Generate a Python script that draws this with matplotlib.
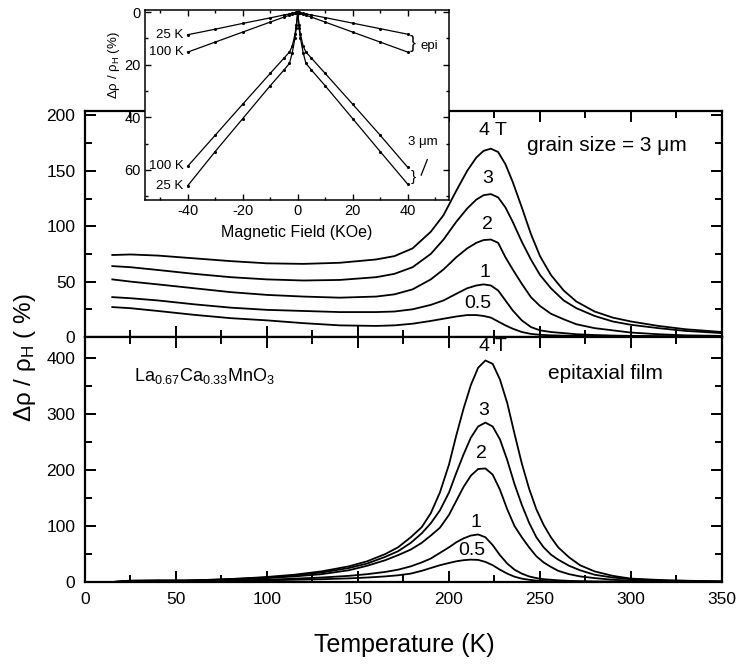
import matplotlib
matplotlib.use('Agg')
import matplotlib.pyplot as plt
from matplotlib.ticker import MultipleLocator

plt.rcParams['font.family'] = ['Liberation Sans', 'DejaVu Sans']
plt.rcParams['mathtext.fontset'] = 'custom'
plt.rcParams['mathtext.rm'] = 'Liberation Sans'
plt.rcParams['mathtext.it'] = 'Liberation Sans:italic'
plt.rcParams['axes.unicode_minus'] = False

fields = ['4 T', '3', '2', '1', '0.5']

# grain size = 3 um sample, delta rho / rho_H (%)
t_grain = [15, 25, 40, 60, 80, 100, 120, 140, 160, 170, 180, 190, 197, 204, 210, 215,
           219, 223, 227, 231, 235, 240, 245, 250, 256, 263, 270, 280, 290, 300, 315, 330, 350]
grain_4T = [74, 74.5, 73.5, 71, 68.5, 66.5, 66, 67, 70, 73, 80, 95, 110, 132, 150, 162,
            168, 170, 167, 156, 140, 117, 93, 73, 56, 42, 32, 23, 17.5, 14, 10, 7, 4.5]
grain_3T = [64, 63, 60.5, 57, 54, 52, 51, 51.5, 54, 57, 63, 75, 88, 104, 116, 124,
            128, 129, 126, 117, 104, 86, 70, 56, 44, 33, 26, 19, 14, 11, 8, 5.5, 3.5]
grain_2T = [52, 50, 47.5, 44, 40.5, 38, 36.5, 35.5, 36.5, 38.5, 43, 52, 61, 72, 80, 85,
            87.5, 88, 85, 72, 61, 48, 36, 28, 21, 16, 11.5, 8, 6, 4, 2.5, 1.5, 1]
grain_1T = [36, 35, 33, 29.5, 26.5, 24.5, 23.5, 22.5, 22.5, 23, 25, 29, 33, 39, 44, 46.5,
            47.5, 46.5, 42, 33, 24, 15, 9, 6, 4.5, 3.5, 2.5, 1.8, 1.3, 1, 0.8, 0.6, 0.5]
grain_05T = [27, 26, 23.5, 20, 17, 15, 12.5, 10.5, 10, 10.5, 12, 14.5, 16.5, 18.5, 19.8, 19.8,
             19, 17.5, 14, 10.5, 7.5, 4.5, 2.8, 2, 1.5, 1.2, 1, 0.8, 0.6, 0.5, 0.4, 0.3, 0.2]

# epitaxial film
t_epi = [15, 25, 40, 55, 70, 85, 100, 115, 130, 145, 155, 165, 172, 179, 185, 190, 195, 200,
         204, 208, 212, 216, 220, 224, 228, 232, 236, 240, 244, 248, 252, 256, 260, 266,
         272, 280, 290, 300, 320, 350]
epi_4T = [0, 2.5, 3, 2.5, 4, 6, 9, 13, 19, 28, 37, 50, 62, 80, 98, 123, 160, 210,
          262, 310, 352, 383, 396, 390, 362, 320, 265, 212, 167, 130, 102, 80, 62, 44,
          30, 19, 11, 6, 3, 1]
epi_3T = [0, 2, 2.5, 3, 4, 6, 8, 12, 17, 25, 33, 45, 55, 70, 87, 105, 128, 160,
          195, 228, 258, 278, 285, 278, 255, 218, 175, 138, 106, 80, 62, 49, 40, 29,
          21, 13, 8, 5, 2.5, 1]
epi_2T = [0, 1.5, 2, 2, 3, 5, 7, 10, 14, 21, 29, 39, 48, 58, 70, 83, 97, 120,
          145, 170, 190, 202, 203, 192, 165, 130, 100, 80, 62, 46, 35, 27, 20, 14,
          10, 7, 4, 2.5, 1.2, 0.5]
epi_1T = [0, 1, 1.5, 2, 2, 3, 4, 6, 8, 11, 14, 18, 22, 28, 35, 42, 52, 62,
          71, 78, 83, 85, 80, 66, 48, 33, 22, 15, 10, 7, 5, 4, 3, 2,
          1.5, 1, 0.8, 0.5, 0.3, 0.2]
epi_05T = [0, 1, 1, 1, 2, 2, 3, 4, 5, 6.5, 8, 10, 12, 15, 20, 25, 30, 34,
           37, 39, 40, 39.5, 36, 30, 22, 15, 9.5, 6, 4, 2.5, 1.8, 1.3, 1, 0.7,
           0.5, 0.4, 0.3, 0.2, 0.1, 0.1]

# inset: MR vs field (KOe)
h_in = [-40, -30, -20, -10, -5, -3, -2, -1, -0.5, 0, 0.5, 1, 2, 3, 5, 10, 20, 30, 40]
epi_25K = [8.6, 6.5, 4.3, 2.2, 1.1, 0.7, 0.5, 0.3, 0.1, 0, 0.1, 0.3, 0.5, 0.7, 1.1, 2.1, 4.2, 6.3, 8.4]
epi_100K = [15.2, 11.4, 7.6, 3.8, 1.9, 1.2, 0.8, 0.4, 0.2, 0, 0.2, 0.4, 0.8, 1.2, 1.9, 3.8, 7.6, 11.4, 15.2]
um3_25K = [66, 53, 40.5, 28, 22, 19.5, 15.5, 10, 6, 0, 6, 10, 15.5, 19.5, 22, 28, 40.5, 53, 65.4]
um3_100K = [58.6, 46.8, 35, 23.3, 17.5, 15.2, 13, 8.5, 5, 0, 5, 8.5, 13, 15.2, 17.5, 23.3, 35, 46.8, 59]

fig = plt.figure(figsize=(7.4, 6.64), dpi=100)
ax_top = fig.add_axes([0.11486, 0.49247, 0.86081, 0.34036])
ax_bot = fig.add_axes([0.11486, 0.12349, 0.86081, 0.36898])
ax_in = fig.add_axes([0.19595, 0.69880, 0.41081, 0.28614])


def style(ax, big=True):
    for s in ax.spines.values():
        s.set_linewidth(1.6 if big else 1.1)
    ax.tick_params(which='both', direction='in', top=True, right=True,
                   width=1.4 if big else 1.0, labelsize=12.5 if big else 10.5,
                   pad=7 if big else 3)
    ax.tick_params(which='major', length=8 if big else 4)
    ax.tick_params(which='minor', length=5 if big else 2.5)


for y in [grain_4T, grain_3T, grain_2T, grain_1T, grain_05T]:
    ax_top.plot(t_grain, y, color='black', lw=1.3)
ax_top.set_xlim(0, 350)
ax_top.set_ylim(0, 204)
ax_top.xaxis.set_major_locator(MultipleLocator(50))
ax_top.xaxis.set_minor_locator(MultipleLocator(25))
ax_top.yaxis.set_major_locator(MultipleLocator(50))
ax_top.yaxis.set_minor_locator(MultipleLocator(25))
style(ax_top)
ax_top.tick_params(labelbottom=False)

for y in [epi_4T, epi_3T, epi_2T, epi_1T, epi_05T]:
    ax_bot.plot(t_epi, y, color='black', lw=1.3)
ax_bot.set_xlim(0, 350)
ax_bot.set_ylim(0, 438)
ax_bot.xaxis.set_major_locator(MultipleLocator(50))
ax_bot.xaxis.set_minor_locator(MultipleLocator(25))
ax_bot.yaxis.set_major_locator(MultipleLocator(100))
ax_bot.yaxis.set_minor_locator(MultipleLocator(50))
style(ax_bot)

# curve labels
top_pos = [(224, 186.5), (221.4, 143), (221, 102), (220, 58.5), (216, 30.6)]
bot_pos = [(224, 421), (219, 306), (218, 229), (215, 107), (212.6, 57)]
for lab, (x, y) in zip(fields, top_pos):
    ax_top.text(x, y, lab, ha='center', va='center', fontsize=14)
for lab, (x, y) in zip(fields, bot_pos):
    ax_bot.text(x, y, lab, ha='center', va='center', fontsize=14)
ax_top.text(287, 173, 'grain size = 3 μm', ha='center', va='center', fontsize=15)
ax_bot.text(286, 372, 'epitaxial film', ha='center', va='center', fontsize=15)
ax_bot.text(27, 368, r'La$_{0.67}$Ca$_{0.33}$MnO$_3$', ha='left', va='center', fontsize=13)

fig.text(404 / 740, 1 - 645 / 664, 'Temperature (K)', ha='center', va='center', fontsize=18)
fig.text(25 / 740, 1 - 358 / 664, r'Δρ / ρ$_{\mathrm{H}}$ ( %)', rotation=90,
         ha='center', va='center', fontsize=17.5)

# inset
for y in [epi_25K, epi_100K, um3_25K, um3_100K]:
    ax_in.plot(h_in, y, color='black', lw=0.9, marker='.', ms=2.5)
ax_in.set_xlim(-55.5, 55)
ax_in.set_ylim(71.4, -0.8)
ax_in.xaxis.set_major_locator(MultipleLocator(20))
ax_in.xaxis.set_minor_locator(MultipleLocator(10))
ax_in.yaxis.set_major_locator(MultipleLocator(20))
ax_in.yaxis.set_minor_locator(MultipleLocator(10))
style(ax_in, big=False)
ax_in.set_xlabel('Magnetic Field (KOe)', fontsize=11.5, labelpad=5)
ax_in.set_ylabel(r'Δρ / ρ$_{\mathrm{H}}$ (%)', fontsize=9.5)
ax_in.yaxis.set_label_coords(-0.075, 0.71)

ax_in.text(-41.5, epi_25K[0], '25 K', ha='right', va='center', fontsize=9.5)
ax_in.text(-41.5, epi_100K[0], '100 K', ha='right', va='center', fontsize=9.5)
ax_in.text(-41.5, um3_100K[0], '100 K', ha='right', va='center', fontsize=9.5)
ax_in.text(-41.5, um3_25K[0], '25 K', ha='right', va='center', fontsize=9.5)
ax_in.text(42, 12, '}', ha='center', va='center', fontsize=13)
ax_in.text(44.5, 13, 'epi', ha='left', va='center', fontsize=9.5)
ax_in.text(42, 62.5, '}', ha='center', va='center', fontsize=11)
ax_in.text(45.6, 49.5, '3 μm', ha='center', va='center', fontsize=9.5)
ax_in.annotate('', xy=(44.5, 63), xytext=(47.5, 55),
               arrowprops=dict(arrowstyle='-', lw=0.9, color='black'))

fig.savefig('out.png', dpi=100)
